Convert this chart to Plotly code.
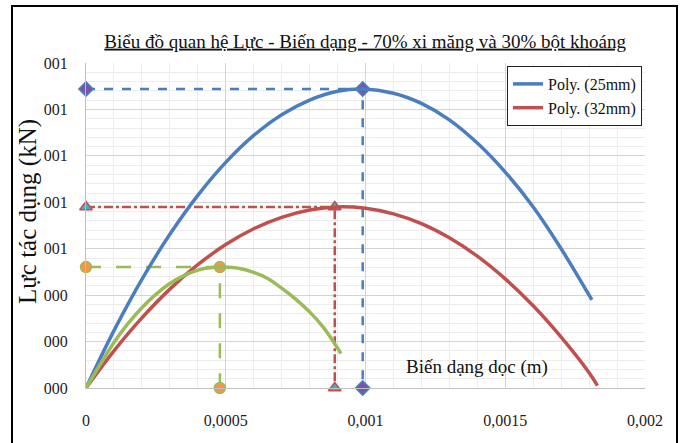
import plotly.graph_objects as go

# ---- data ----
x_25 = [0, 0.0001, 0.0002, 0.0003, 0.0004, 0.0005, 0.0006, 0.0007, 0.0008, 0.0009,
        0.00099, 0.0011, 0.0012, 0.0013, 0.0014, 0.0015, 0.0016, 0.0017, 0.0018, 0.00181]
y_25 = [0, 0.247, 0.468, 0.662, 0.830, 0.972, 1.088, 1.177, 1.240, 1.278,
        1.288, 1.270, 1.226, 1.155, 1.055, 0.930, 0.780, 0.600, 0.400, 0.380]

x_32 = [0, 0.0001, 0.0002, 0.0003, 0.0004, 0.0005, 0.0006, 0.0007, 0.0008, 0.0009,
        0.001, 0.0011, 0.0012, 0.0013, 0.0014, 0.0015, 0.0016, 0.0017, 0.0018, 0.00183]
y_32 = [0, 0.160, 0.302, 0.426, 0.531, 0.618, 0.686, 0.735, 0.767, 0.780,
        0.774, 0.750, 0.708, 0.647, 0.568, 0.470, 0.354, 0.219, 0.066, 0.010]

x_g = [0, 0.00005, 0.0001, 0.00015, 0.0002, 0.00025, 0.0003, 0.00035, 0.0004, 0.00045,
       0.00049, 0.00055, 0.0006, 0.00065, 0.0007, 0.00075, 0.0008, 0.00085, 0.0009, 0.000912]
y_g = [0, 0.100, 0.196, 0.277, 0.346, 0.403, 0.450, 0.484, 0.508, 0.519,
       0.521, 0.515, 0.498, 0.472, 0.430, 0.383, 0.328, 0.260, 0.172, 0.148]

# peak guide lines (x of peak, force at peak)
peak_25 = (0.00099, 1.288)
peak_32 = (0.00089, 0.780)
peak_g = (0.000479, 0.521)

x_ticks = [0, 0.0005, 0.001, 0.0015, 0.002]
x_ticktext = ["0", "0,0005", "0,001", "0,0015", "0,002"]
y_ticks = [0, 0.2, 0.4, 0.6, 0.8, 1.0, 1.2, 1.4]
y_ticktext = ["000", "000", "000", "001", "001", "001", "001", "001"]

title_text = "Biểu đồ quan hệ Lực - Biến dạng - 70% xi măng và 30% bột khoáng"
x_title = "Biến dạng dọc (m)"
y_title = "Lực tác dụng (kN)"
names = ["Poly. (25mm)", "Poly. (32mm)"]

BLUE = "#4A7EC1"
RED = "#C0504D"
GREEN = "#9BBB59"
FONT = "Liberation Serif"

fig = go.Figure()

def guide(peak, color, dash, symbol, fill):
    px, py = peak
    fig.add_trace(go.Scatter(
        x=[0, px, px], y=[py, py, 0], mode="lines+markers",
        line=dict(color=color, width=2.5, dash=dash),
        marker=dict(symbol=symbol, size=11, color=fill, line=dict(color=color, width=1.5)),
        showlegend=False, hoverinfo="skip", cliponaxis=False))

guide(peak_25, BLUE, "dash", "diamond", "#7458A8")
guide(peak_32, RED, "dashdot", "triangle-up", "#4BACC6")
guide(peak_g, GREEN, "longdash", "circle", "#F79646")

fig.add_trace(go.Scatter(x=x_25, y=y_25, mode="lines", name=names[0],
                         line=dict(color=BLUE, width=3.5, shape="spline")))
fig.add_trace(go.Scatter(x=x_32, y=y_32, mode="lines", name=names[1],
                         line=dict(color=RED, width=3.5, shape="spline")))
fig.add_trace(go.Scatter(x=x_g, y=y_g, mode="lines", showlegend=False,
                         line=dict(color=GREEN, width=3.5, shape="spline")))

fig.update_layout(
    width=680, height=443,
    margin=dict(l=86, r=35, t=63, b=55, autoexpand=False),
    paper_bgcolor="white", plot_bgcolor="white",
    font=dict(family=FONT, color="#222222", size=16),
    title=dict(text="<u>" + title_text + "</u>", x=0.537, xanchor="center",
               y=1 - 41 / 443, yanchor="middle", font=dict(family=FONT, size=19, color="#111111")),
    legend=dict(x=(507 - 86) / 559, y=(388 - 66) / 325, xanchor="left", yanchor="top",
                bgcolor="white", bordercolor="#222222", borderwidth=1,
                font=dict(family=FONT, size=16, color="#111111"),
                itemwidth=30, tracegroupgap=0),
    xaxis=dict(range=[0, 0.002], tickvals=x_ticks, ticktext=x_ticktext, automargin=False,
               showgrid=True, gridcolor="#D4D4D4", gridwidth=1,
               minor=dict(dtick=0.0001, showgrid=True, gridcolor="#EDEDED"),
               showline=True, linecolor="#BFBFBF", zeroline=False, ticks="",
               ticklabelstandoff=18, tickfont=dict(size=16)),
    yaxis=dict(range=[0, 1.4], tickvals=y_ticks, ticktext=y_ticktext, automargin=False,
               showgrid=True, gridcolor="#D4D4D4", gridwidth=1,
               minor=dict(dtick=0.04, showgrid=True, gridcolor="#EDEDED"),
               showline=True, linecolor="#BFBFBF", zeroline=False, ticks="",
               ticklabelstandoff=14, tickfont=dict(size=16)),
    annotations=[
        dict(text=x_title, x=0.0014, y=0.09, xref="x", yref="y", showarrow=False,
             xanchor="center", yanchor="middle",
             font=dict(family=FONT, size=19, color="#111111")),
        dict(text=y_title, x=(28 - 86) / 559, y=(388 - 212) / 325, xref="paper", yref="paper",
             xanchor="center", yanchor="middle",
             textangle=-90, showarrow=False, font=dict(family=FONT, size=25, color="#111111")),
    ],
    shapes=[
        dict(type="rect", xref="paper", yref="paper",
             x0=(12 - 86) / 559, x1=(677 - 86) / 559, y0=(388 - 450) / 325, y1=(388 - 6) / 325,
             line=dict(color="black", width=2), fillcolor="rgba(0,0,0,0)", layer="above"),
    ],
)

fig.write_html("out.html", config={"displayModeBar": False},
               post_script="document.body.style.margin='0';")
